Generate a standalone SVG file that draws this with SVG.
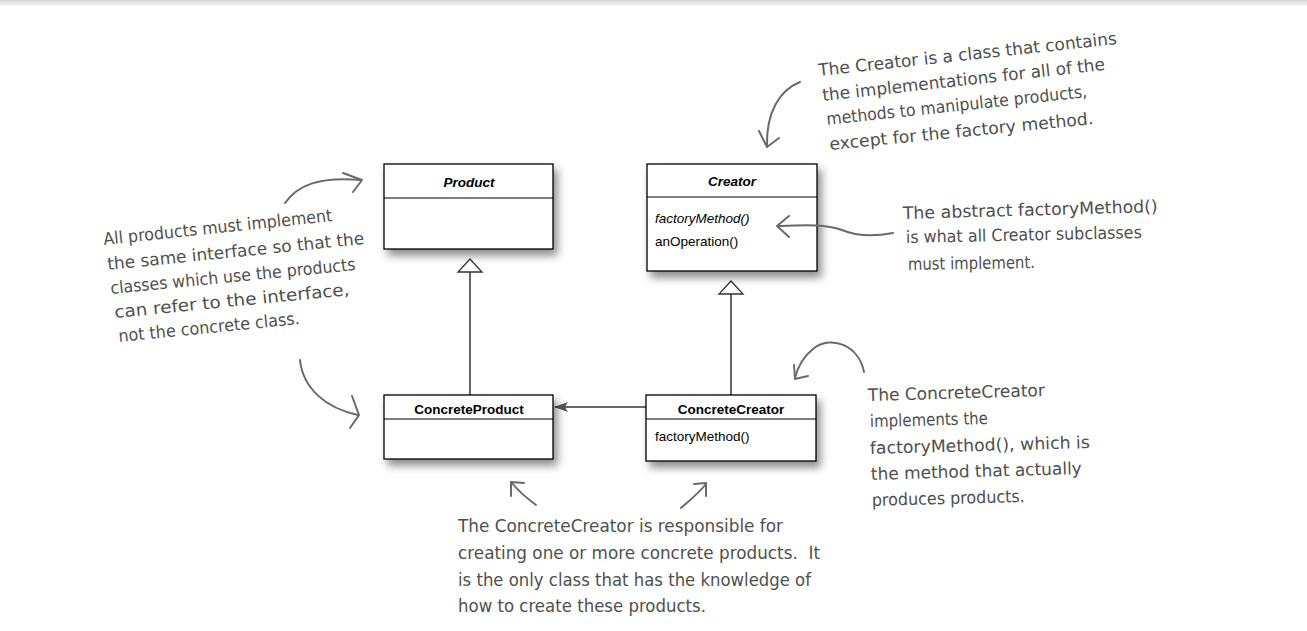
<svg xmlns="http://www.w3.org/2000/svg" width="1307" height="631" viewBox="0 0 1307 631">
<defs>
<linearGradient id="topbar" x1="0" y1="0" x2="0" y2="1">
<stop offset="0" stop-color="#d4d4d4"/>
<stop offset="1" stop-color="#ffffff"/>
</linearGradient>
<filter id="shadow" x="-10%" y="-10%" width="130%" height="150%">
<feDropShadow dx="4" dy="6" stdDeviation="4" flood-color="#000" flood-opacity="0.45"/>
</filter>
<marker id="filled" viewBox="0 0 14 10" refX="13" refY="5" markerWidth="14" markerHeight="10" markerUnits="userSpaceOnUse" orient="auto">
<path d="M0,0 L14,5 L0,10 L3,5 Z" fill="#555"/>
</marker>
</defs>
<style>
.box{fill:#fff;stroke:#000;stroke-width:1.3}
.sep{stroke:#000;stroke-width:1}
.title{font-family:"Liberation Sans",Arial,sans-serif;font-size:13.5px;font-weight:bold;fill:#000;text-anchor:middle}
.it{font-style:italic}
.op{font-family:"Liberation Sans",Arial,sans-serif;font-size:13.5px;fill:#000}
.conn{stroke:#333;stroke-width:1.5;fill:none}
.tri{fill:#fff;stroke:#333;stroke-width:1.3}
.hand{font-family:"DejaVu Sans","Noto Sans",sans-serif;font-size:17px;fill:#4f4f4f}
.harrow{fill:none;stroke:#6a6a6a;stroke-width:2;stroke-linecap:round;stroke-linejoin:round}
</style>
<rect x="0" y="0" width="1307" height="631" fill="#fff"/>
<rect x="0" y="0" width="1307" height="7" fill="url(#topbar)"/>

<g id="connectors">
<line class="conn" x1="470" y1="272" x2="470" y2="395"/>
<path class="tri" d="M470,259 L482,272 L458,272 Z"/>
<line class="conn" x1="731" y1="294" x2="731" y2="395"/>
<path class="tri" d="M731,281 L743,294 L719,294 Z"/>
<line class="conn" x1="646" y1="407" x2="555" y2="407" stroke-width="2" marker-end="url(#filled)"/>
</g>

<g id="product">
<rect class="box" x="384" y="164" width="169" height="85" filter="url(#shadow)"/>
<line class="sep" x1="384" y1="198" x2="553" y2="198"/>
<text class="title it" x="469" y="187">Product</text>
</g>

<g id="creator">
<rect class="box" x="647" y="164" width="170" height="107" filter="url(#shadow)"/>
<line class="sep" x1="647" y1="197" x2="817" y2="197"/>
<text class="title it" x="732" y="186">Creator</text>
<text class="op it" x="655" y="223">factoryMethod()</text>
<text class="op" x="655" y="246">anOperation()</text>
</g>

<g id="concreteproduct">
<rect class="box" x="384" y="395" width="169" height="64" filter="url(#shadow)"/>
<line class="sep" x1="384" y1="419" x2="553" y2="419"/>
<text class="title" x="469" y="414">ConcreteProduct</text>
</g>

<g id="concretecreator">
<rect class="box" x="646" y="395" width="170" height="66" filter="url(#shadow)"/>
<line class="sep" x1="646" y1="419" x2="816" y2="419"/>
<text class="title" x="731" y="414">ConcreteCreator</text>
<text class="op" x="655" y="441">factoryMethod()</text>
</g>

<g id="note-products">
<text class="hand" x="104" y="245" transform="rotate(-5.98 104 245)" textLength="230" lengthAdjust="spacingAndGlyphs">All products must implement</text>
<text class="hand" x="108" y="270" transform="rotate(-5.78 108 270)" textLength="258" lengthAdjust="spacingAndGlyphs">the same interface so that the</text>
<text class="hand" x="111" y="294" transform="rotate(-5.6 111 294)" textLength="246" lengthAdjust="spacingAndGlyphs">classes which use the products</text>
<text class="hand" x="115" y="318" transform="rotate(-5.59 115 318)" textLength="236" lengthAdjust="spacingAndGlyphs">can refer to the interface,</text>
<text class="hand" x="119" y="342" transform="rotate(-5.68 119 342)" textLength="182" lengthAdjust="spacingAndGlyphs">not the concrete class.</text>
<path class="harrow" d="M285,203 C297,186 318,176 361,180"/>
<path class="harrow" d="M343,173 L362,180 L353,192"/>
<path class="harrow" d="M300,360 C303,388 325,408 358,415"/>
<path class="harrow" d="M352,396 L359,415 L350,428"/>
</g>

<g id="note-creator">
<text class="hand" x="819" y="76" transform="rotate(-6.13 819 76)" textLength="300" lengthAdjust="spacingAndGlyphs">The Creator is a class that contains</text>
<text class="hand" x="823" y="101" transform="rotate(-6.27 823 101)" textLength="284" lengthAdjust="spacingAndGlyphs">the implementations for all of the</text>
<text class="hand" x="827" y="125" transform="rotate(-6.12 827 125)" textLength="262" lengthAdjust="spacingAndGlyphs">methods to manipulate products,</text>
<text class="hand" x="830" y="150" transform="rotate(-5.62 830 150)" textLength="265" lengthAdjust="spacingAndGlyphs">except for the factory method.</text>
<path class="harrow" d="M800,82 C780,90 766,112 767,146"/>
<path class="harrow" d="M759,131 L767,147 L779,138"/>
</g>

<g id="note-factory">
<text class="hand" x="903" y="219" transform="rotate(-1.57 903 219)" textLength="255" lengthAdjust="spacingAndGlyphs">The abstract factoryMethod()</text>
<text class="hand" x="906" y="243" transform="rotate(-1.21 906 243)" textLength="236" lengthAdjust="spacingAndGlyphs">is what all Creator subclasses</text>
<text class="hand" x="908" y="270" transform="rotate(-0.9 908 270)" textLength="127" lengthAdjust="spacingAndGlyphs">must implement.</text>
<path class="harrow" d="M893,233 C872,237 856,236 842,230 C826,224 805,225 778,226"/>
<path class="harrow" d="M789,216 L777,226 L789,237"/>
</g>

<g id="note-concretecreator">
<text class="hand" x="868" y="401" transform="rotate(-1.6 868 401)" textLength="177" lengthAdjust="spacingAndGlyphs">The ConcreteCreator</text>
<text class="hand" x="870" y="427" transform="rotate(-1.46 870 427)" textLength="118" lengthAdjust="spacingAndGlyphs">implements the</text>
<text class="hand" x="870" y="454" transform="rotate(-1.56 870 454)" textLength="220" lengthAdjust="spacingAndGlyphs">factoryMethod(), which is</text>
<text class="hand" x="871" y="480" transform="rotate(-1.63 871 480)" textLength="211" lengthAdjust="spacingAndGlyphs">the method that actually</text>
<text class="hand" x="872" y="506" transform="rotate(-1.5 872 506)" textLength="153" lengthAdjust="spacingAndGlyphs">produces products.</text>
<path class="harrow" d="M864,372 C859,346 832,334 813,349 C804,356 798,366 795,378"/>
<path class="harrow" d="M794,365 L795,379 L808,376"/>
</g>

<g id="note-bottom">
<text class="hand" x="458" y="532" textLength="325" lengthAdjust="spacingAndGlyphs">The ConcreteCreator is responsible for</text>
<text class="hand" x="458" y="559" textLength="362" lengthAdjust="spacingAndGlyphs" xml:space="preserve">creating one or more concrete products.  It</text>
<text class="hand" x="458" y="586" textLength="353" lengthAdjust="spacingAndGlyphs">is the only class that has the knowledge of</text>
<text class="hand" x="458" y="612" textLength="248" lengthAdjust="spacingAndGlyphs">how to create these products.</text>
<path class="harrow" d="M536,505 C528,499 519,492 512,483"/>
<path class="harrow" d="M511,496 L511,482 L524,483"/>
<path class="harrow" d="M681,508 C690,500 699,493 706,484"/>
<path class="harrow" d="M694,484 L706,483 L706,496"/>
</g>
</svg>
